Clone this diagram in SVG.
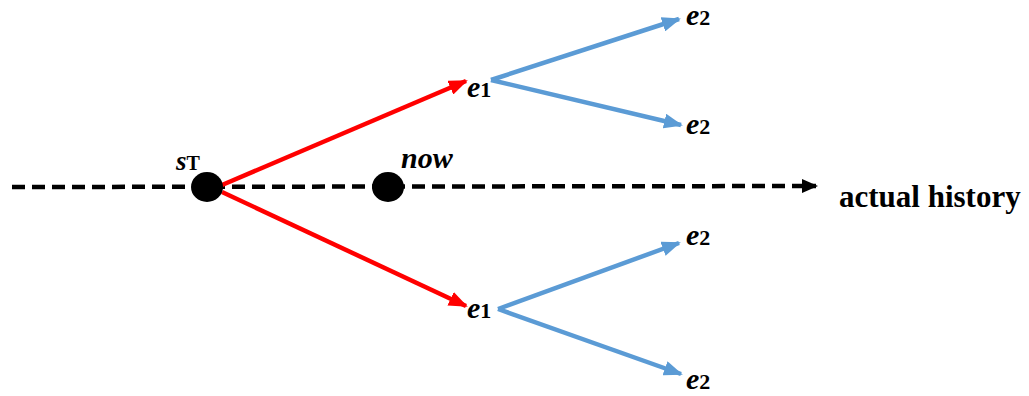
<svg xmlns="http://www.w3.org/2000/svg" width="1029" height="396" viewBox="0 0 1029 396">
<style>
text{font-family:'Liberation Serif','DejaVu Serif',serif;font-weight:bold;fill:#000}
.it{font-style:italic}
.red{stroke:#ff0000;stroke-width:4.5;fill:none}
.blue{stroke:#5b9bd5;stroke-width:4.5;fill:none}
.dash{stroke:#000;stroke-width:4.5;stroke-dasharray:13 7;fill:none}
</style>
<defs>
<marker id="ar" markerUnits="userSpaceOnUse" markerWidth="19" markerHeight="15" refX="17" refY="7.5" orient="auto"><path d="M0,0 L19,7.5 L0,15 z" fill="#ff0000"/></marker>
<marker id="ab" markerUnits="userSpaceOnUse" markerWidth="19" markerHeight="15" refX="17" refY="7.5" orient="auto"><path d="M0,0 L19,7.5 L0,15 z" fill="#5b9bd5"/></marker>
<marker id="ak" markerUnits="userSpaceOnUse" markerWidth="16" markerHeight="14" refX="14" refY="7" orient="auto"><path d="M0,0 L16,7 L0,14 z" fill="#000"/></marker>
</defs>
<g id="connectors">
<path class="dash" d="M12,187 L816,186" marker-end="url(#ak)"/>
<path class="red" d="M222,185 L466,81" marker-end="url(#ar)"/>
<path class="red" d="M222,192 L466,306" marker-end="url(#ar)"/>
<path class="blue" d="M491,80 L679,19" marker-end="url(#ab)"/>
<path class="blue" d="M491,80 L681,125" marker-end="url(#ab)"/>
<path class="blue" d="M498,309 L679,243" marker-end="url(#ab)"/>
<path class="blue" d="M498,309 L681,374" marker-end="url(#ab)"/>
</g>
<g id="sT">
<ellipse cx="207" cy="187" rx="16" ry="15" fill="#000"/>
<text x="176" y="170"><tspan class="it" font-size="27">s</tspan><tspan font-size="20">T</tspan></text>
</g>
<g id="now">
<ellipse cx="388" cy="187" rx="16" ry="15" fill="#000"/>
<text class="it" x="401" y="168" font-size="30">now</text>
</g>
<g id="e1-top"><text x="467" y="97"><tspan class="it" font-size="30">e</tspan><tspan font-size="22">1</tspan></text></g>
<g id="e1-bot"><text x="467" y="318"><tspan class="it" font-size="30">e</tspan><tspan font-size="22">1</tspan></text></g>
<g id="e2-a"><text x="686" y="25"><tspan class="it" font-size="30">e</tspan><tspan font-size="22">2</tspan></text></g>
<g id="e2-b"><text x="686" y="134"><tspan class="it" font-size="30">e</tspan><tspan font-size="22">2</tspan></text></g>
<g id="e2-c"><text x="686" y="245"><tspan class="it" font-size="30">e</tspan><tspan font-size="22">2</tspan></text></g>
<g id="e2-d"><text x="686" y="389"><tspan class="it" font-size="30">e</tspan><tspan font-size="22">2</tspan></text></g>
<g id="actual-history"><text x="839" y="207" font-size="31">actual history</text></g>
</svg>
